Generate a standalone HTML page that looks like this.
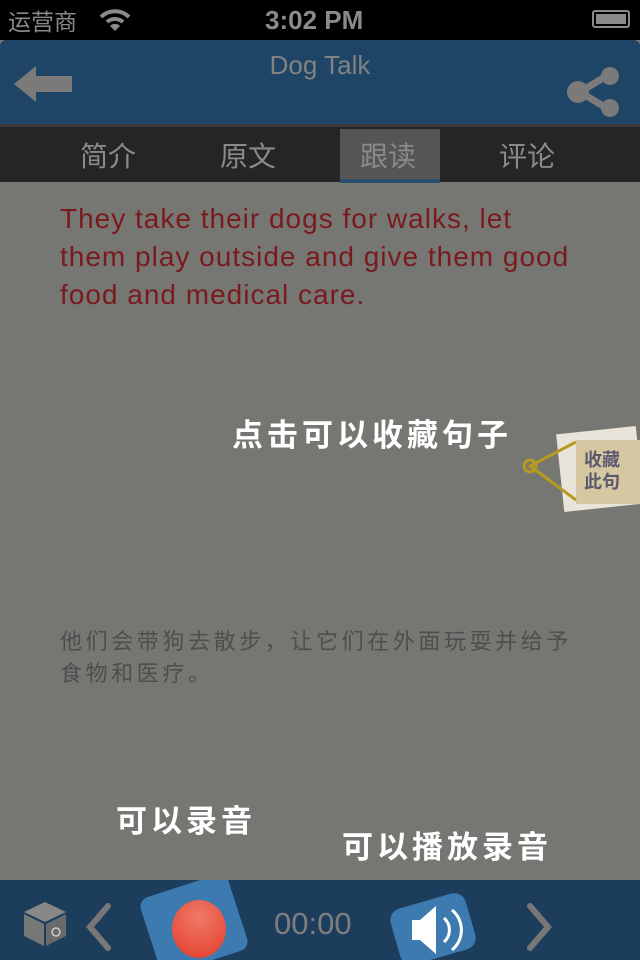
<!DOCTYPE html>
<html><head><meta charset="utf-8"><style>
*{margin:0;padding:0;box-sizing:border-box}
body{width:640px;height:960px;overflow:hidden;background:#767672;font-family:"Liberation Sans","Noto Sans CJK SC",sans-serif;position:relative}
.abs{position:absolute}
.cjk{font-family:"Noto Sans CJK SC","WenQuanYi Zen Hei",sans-serif}
</style></head><body>
<div class="abs" style="left:0;top:0;width:640px;height:40px;background:#000;color:#8a8a8a">
 <div class="abs cjk" style="left:8px;top:3px;font-size:23px">运营商</div>
 <svg class="abs" style="left:98px;top:8px" width="34" height="24" viewBox="0 0 34 24"><path d="M3 9a20 20 0 0 1 28 0" stroke="#8a8a8a" stroke-width="4" fill="none"/><path d="M9 14a12 12 0 0 1 16 0" stroke="#8a8a8a" stroke-width="4" fill="none"/><path d="M12 18l5 5 5-5a7 7 0 0 0-10 0z" fill="#8a8a8a"/></svg>
 <div class="abs" style="left:265px;top:5px;font-size:26px;font-weight:bold">3:02 PM</div>
 <div class="abs" style="left:592px;top:10px;width:38px;height:18px;border:2px solid #8a8a8a;border-radius:3px;padding:2px"><div style="background:#8a8a8a;width:100%;height:100%"></div></div>
</div>
<div class="abs" style="left:0;top:40px;width:640px;height:84px;background:#1e4566;border-radius:6px 6px 0 0;overflow:hidden">
 <svg class="abs" style="left:12px;top:24px" width="64" height="40" viewBox="0 0 64 40"><path d="M2 20L24 2v10h36v16H24v10z" fill="#7a7a7a"/></svg>
 <div class="abs" style="left:0;width:640px;top:10px;text-align:center;font-size:26px;color:#828282">Dog Talk</div>
 <svg class="abs" style="left:564px;top:26px" width="60" height="52" viewBox="0 0 60 52"><path d="M44 9L16 26L44 43" stroke="#7a7a7a" stroke-width="7" fill="none"/><circle cx="46" cy="10" r="9" fill="#7a7a7a"/><circle cx="14" cy="26" r="11" fill="#7a7a7a"/><circle cx="46" cy="42" r="9" fill="#7a7a7a"/></svg>
</div>
<div class="abs" style="left:0;top:124px;width:640px;height:58px;background:#252525;border-top:3px solid #3a3a3a">
 <div class="abs" style="left:340px;top:2px;width:100px;height:54px;background:#555;border-bottom:4px solid #2a5070"></div>
 <div class="abs cjk" style="left:80px;top:8px;font-size:28px;color:#8a8a8a">简介</div>
 <div class="abs cjk" style="left:220px;top:8px;font-size:28px;color:#8a8a8a">原文</div>
 <div class="abs cjk" style="left:360px;top:8px;font-size:28px;color:#8a8a8a">跟读</div>
 <div class="abs cjk" style="left:499px;top:8px;font-size:28px;color:#8a8a8a">评论</div>
</div>
<div class="abs" style="left:60px;top:200px;width:518px;font-size:28px;letter-spacing:1px;line-height:38px;color:#7a1a1e">They take their dogs for walks, let them play outside and give them good food and medical care.</div>
<div class="abs cjk" style="left:232px;top:410px;font-size:31px;letter-spacing:4px;font-weight:bold;color:#fff">点击可以收藏句子</div>
<div class="abs" style="left:520px;top:422px;width:120px;height:90px">
 <div class="abs" style="left:40px;top:8px;width:80px;height:78px;background:#e8e4da;transform:rotate(-6deg)"></div>
 <div class="abs" style="left:56px;top:18px;width:64px;height:64px;background:#d6c6a2"></div>
 <svg class="abs" style="left:0;top:0" width="70" height="90"><path d="M56 20L10 44L56 78" stroke="#b89a20" stroke-width="3" fill="none"/><circle cx="10" cy="44" r="6" stroke="#b89a20" stroke-width="3" fill="none"/></svg>
 <div class="abs cjk" style="left:64px;top:26px;font-size:18px;line-height:22px;color:#5a5a6e;font-weight:bold">收藏<br>此句</div>
</div>
<div class="abs cjk" style="left:60px;top:624px;width:535px;font-size:22px;letter-spacing:3.6px;line-height:32px;color:#4e4e4e">他们会带狗去散步，让它们在外面玩耍并给予食物和医疗。</div>
<div class="abs cjk" style="left:116px;top:796px;font-size:31px;letter-spacing:4px;font-weight:bold;color:#fff">可以录音</div>
<div class="abs cjk" style="left:342px;top:822px;font-size:31px;letter-spacing:4px;font-weight:bold;color:#fff">可以播放录音</div>
<div class="abs" style="left:0;top:880px;width:640px;height:80px;background:#1c3d5c;overflow:hidden">
 <svg class="abs" style="left:22px;top:20px" width="46" height="48" viewBox="0 0 46 48"><path d="M23 2L44 12L23 22L2 12z" fill="#888"/><path d="M2 14L22 24V46L2 36z" fill="#777"/><path d="M24 24L44 14V36L24 46z" fill="#6a6a6a"/><circle cx="34" cy="32" r="4" stroke="#ccc" fill="none" stroke-width="1.5"/></svg>
 <svg class="abs" style="left:84px;top:22px" width="30" height="50"><path d="M24 4L6 25L24 46" stroke="#777" stroke-width="6" fill="none" stroke-linecap="round"/></svg>
 <div class="abs" style="left:148px;top:4px;width:92px;height:80px;background:#3c7ab0;transform:rotate(-18deg);border-radius:10px"></div>
 <div class="abs" style="left:172px;top:20px;width:54px;height:58px;border-radius:50%;background:radial-gradient(circle at 50% 30%,#f07a68,#e33b2a)"></div>
 <div class="abs" style="left:274px;top:26px;font-size:31px;color:#7e7e7e">00:00</div>
 <div class="abs" style="left:394px;top:20px;width:78px;height:58px;background:#3c7ab0;transform:rotate(-16deg);border-radius:12px"></div>
 <svg class="abs" style="left:408px;top:22px" width="64" height="56" viewBox="0 0 64 56"><path d="M4 18h8l16-14v48L12 38H4z" fill="#fff"/><path d="M36 16a16 16 0 0 1 0 24" stroke="#fff" stroke-width="3" fill="none"/><path d="M44 8a26 26 0 0 1 0 40" stroke="#fff" stroke-width="3" fill="none"/></svg>
 <svg class="abs" style="left:522px;top:22px" width="34" height="50"><path d="M8 4L26 25L8 46" stroke="#777" stroke-width="6" fill="none" stroke-linecap="round"/></svg>
</div>
</body></html>
